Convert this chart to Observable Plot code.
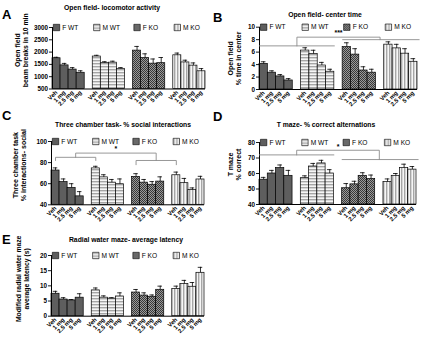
<!DOCTYPE html>
<html><head><meta charset="utf-8">
<script src="https://cdn.jsdelivr.net/npm/d3@7"></script>
<script src="https://cdn.jsdelivr.net/npm/@observablehq/plot@0.6"></script>
<style>
body{margin:0;background:#fff;}
#wrap{position:relative;width:424px;height:341px;overflow:hidden;font-family:"Liberation Sans",Arial,sans-serif;color:#000;}
.panel{position:absolute;}
.title{position:absolute;transform:translateX(-50%);white-space:nowrap;font-weight:bold;font-size:6.8px;}
.letter{position:absolute;font-weight:bold;font-size:13px;line-height:13px;}
</style></head><body>
<svg width="0" height="0" style="position:absolute">
<defs>
<pattern id="pfwt" patternUnits="userSpaceOnUse" width="4" height="4"><rect width="4" height="4" fill="#5e5e5e"/></pattern>
<pattern id="pmwt" patternUnits="userSpaceOnUse" width="4" height="3"><rect width="4" height="3" fill="#f6f6f6"/><rect width="4" height="1.4" fill="#a6a6a6"/></pattern>
<pattern id="pfko" patternUnits="userSpaceOnUse" width="2" height="2"><rect width="2" height="2" fill="#9a9a9a"/><rect width="1" height="1" fill="#383838"/><rect x="1" y="1" width="1" height="1" fill="#383838"/></pattern>
<pattern id="pmko" patternUnits="userSpaceOnUse" width="3" height="4"><rect width="3" height="4" fill="#f6f6f6"/><rect width="1.4" height="4" fill="#a6a6a6"/></pattern>
</defs></svg>
<div id="wrap"></div>
<script>
// ---- data ----
const groups = ["F WT", "M WT", "F KO", "M KO"];
const doses = ["Veh", "1 mg", "2.5 mg", "5 mg"];

const aTitle = "Open field- locomotor activity";
const aYLabel = ["Open field", "beam breaks in 10 min"];
const aTicks = [500, 1000, 1500, 2000, 2500, 3000];
const aMean = [1750, 1460, 1290, 1160, 1820, 1550, 1570, 1320, 2060, 1760, 1530, 1550, 1870, 1580, 1450, 1220];
const aErr  = [40, 80, 80, 80, 50, 60, 60, 50, 170, 170, 190, 230, 90, 90, 110, 110];

const bTitle = "Open field- center time";
const bYLabel = ["Open field", "% time in center"];
const bTicks = [0, 2, 4, 6, 8, 10];
const bMean = [4.1, 2.7, 2.1, 1.45, 6.25, 5.7, 3.85, 2.85, 6.8, 5.6, 3.05, 2.7, 7.2, 6.6, 5.75, 4.45];
const bErr  = [0.35, 0.3, 0.3, 0.3, 0.45, 0.6, 0.5, 0.4, 0.7, 0.95, 0.6, 0.55, 0.45, 0.65, 0.8, 0.5];
const bSig = {label: "***", wt: 7.0, top: 8.4, ko: 8.0};

const cTitle = "Three chamber task- % social interactions";
const cYLabel = ["Three chamber task", "% interactions- social"];
const cTicks = [40, 60, 80, 100];
const cMean = [72.5, 61.5, 56, 48, 74.5, 66, 61, 59.5, 66.5, 61, 59, 62, 68, 60.5, 54, 64];
const cErr  = [2.5, 3, 4, 4.5, 2, 2.5, 3, 5, 3, 3, 3, 4.5, 3, 4.5, 2, 3];
const cSig = {label: "*", wt: 85, wtEnd: 82, top: 89, ko: 82, koEnd: 78};

const dTitle = "T maze- % correct alternations";
const dYLabel = ["T maze", "% correct"];
const dTicks = [40, 50, 60, 70, 80];
const dMean = [56, 60, 63.5, 58.5, 57, 64.5, 66.5, 60, 50.5, 53, 58.5, 56.5, 54.5, 58.5, 63.5, 62.5];
const dErr  = [1.5, 2, 2, 3.5, 1.5, 2, 2, 2.5, 3, 2, 2, 2.5, 2, 1.5, 2.5, 2];
const dSig = {label: "*", wt: 72, top: 75, ko: 69};

const eTitle = "Radial water maze- average latency";
const eYLabel = ["Modified radial water maze", "average latency (s)"];
const eTicks = [0, 5, 10, 15, 20];
const eMean = [7.4, 5.5, 5.2, 6.1, 8.5, 6.1, 5.8, 6.5, 7.8, 6.8, 6.4, 8.7, 9.0, 10.6, 9.7, 14.3];
const eErr  = [0.8, 0.6, 0.3, 1.3, 0.8, 0.6, 0.3, 1.2, 1.0, 0.9, 0.6, 1.2, 0.9, 1.2, 1.4, 1.8];

// ---- drawing ----
const fills = ["url(#pfwt)", "url(#pmwt)", "url(#pfko)", "url(#pmko)"];
const FONT = '"Liberation Sans", Arial, sans-serif';
const wrap = document.getElementById("wrap");

function addDiv(cls, text, left, top) {
  const d = document.createElement("div");
  d.className = cls; d.textContent = text;
  d.style.left = left + "px"; d.style.top = top + "px";
  wrap.appendChild(d);
}

function sigMarks(sig, kind) {
  const segs = [];
  if (kind === "groups") {
    segs.push([[0, sig.wt], [9, sig.wt]]);
    segs.push([[10, sig.ko], [19.2, sig.ko]]);
    segs.push([[4.5, sig.wt], [4.5, sig.top], [14.5, sig.top], [14.5, sig.ko]]);
  } else {
    const l1 = 0.5, l2 = 5.5, r1 = 10.5, r2 = 15.5;
    const lm = (l1 + l2) / 2, rm = (r1 + r2) / 2;
    segs.push([[l1, sig.wtEnd], [l1, sig.wt], [l2, sig.wt], [l2, sig.wtEnd]]);
    segs.push([[r1, sig.koEnd], [r1, sig.ko], [r2, sig.ko], [r2, sig.koEnd]]);
    segs.push([[lm, sig.wt], [lm, sig.top], [rm, sig.top], [rm, sig.ko]]);
  }
  const pts = [];
  segs.forEach((s, k) => s.forEach(p => pts.push({k, x: p[0], y: p[1]})));
  const cx = kind === "groups" ? 9.5 : 8;
  return [
    Plot.line(pts, {x: "x", y: "y", z: "k", stroke: "#8c8c8c", strokeWidth: 0.9}),
    Plot.text([sig.label], {x: cx, y: sig.top, text: d => d, dy: -4, fontSize: 7, fontWeight: "bold"})
  ];
}

function panel(cfg) {
  const rows = cfg.mean.map((v, k) => ({g: Math.floor(k / 4), d: k % 4, slot: Math.floor(k / 4) * 5 + (k % 4), v, e: cfg.err[k]}));
  const y0 = cfg.ticks[0], y1 = cfg.ticks[cfg.ticks.length - 1];
  const marks = [];
  marks.push(Plot.axisY({ticks: cfg.ticks, tickFormat: d => String(d), tickSize: 3, tickPadding: 1.5, fontSize: 6.3, fontWeight: "bold", label: null, strokeWidth: 0.9}));
  marks.push(Plot.axisX({ticks: rows.map(r => r.slot + 0.5), tickFormat: t => doses[Math.round(t - 0.5) % 5], tickRotate: -45, tickSize: 0, tickPadding: 2.5, fontSize: 6, fontWeight: "bold", label: null}));
  groups.forEach((name, g) => {
    marks.push(Plot.rectY(rows.filter(r => r.g === g), {x1: "slot", x2: r => r.slot + 1, y1: y0, y2: "v", fill: fills[g], stroke: "black", strokeWidth: 0.7}));
  });
  marks.push(Plot.ruleX(rows, {x: r => r.slot + 0.5, y1: "v", y2: r => r.v + r.e, stroke: "black", strokeWidth: 0.8}));
  marks.push(Plot.ruleY(rows, {y: r => r.v + r.e, x1: r => r.slot + 0.22, x2: r => r.slot + 0.78, stroke: "black", strokeWidth: 0.8}));
  marks.push(Plot.ruleX([0], {stroke: "black", strokeWidth: 1}));
  marks.push(Plot.ruleY([y0], {stroke: "black", strokeWidth: 1}));
  groups.forEach((name, g) => {
    marks.push(Plot.dot([name], {x: g * 5 + 0.5, y: y1, symbol: "square", r: 3.6, fill: fills[g], stroke: "black", strokeWidth: 0.6}));
  });
  marks.push(Plot.text(groups, {x: (d, i) => i * 5 + 1.2, y: y1, text: d => d, textAnchor: "start", fontSize: 6.6}));
  if (cfg.sig) marks.push(...sigMarks(cfg.sig, cfg.sigKind));
  cfg.ylabel.forEach((line, k) => {
    marks.push(Plot.text([line], {frameAnchor: "left", textAnchor: "middle", rotate: -90, dx: cfg.ylx + (k - 0.5) * 8, dy: cfg.yly, text: d => d, fontSize: cfg.yfs || 7, fontWeight: "bold"}));
  });
  const svg = Plot.plot({
    width: cfg.w, height: cfg.h,
    marginTop: cfg.m[0], marginRight: cfg.m[1], marginBottom: cfg.m[2], marginLeft: cfg.m[3],
    x: {type: "linear", domain: [0, 19]},
    y: {domain: [y0, y1]},
    style: {fontFamily: FONT, background: "transparent", overflow: "visible", color: "black"},
    marks
  });
  svg.classList.add("panel");
  svg.style.left = cfg.left + "px"; svg.style.top = cfg.top + "px";
  wrap.appendChild(svg);
  addDiv("title", cfg.title, cfg.tx, cfg.ty);
  addDiv("letter", cfg.letter, cfg.lx, cfg.ly);
}

panel({letter: "A", lx: 2, ly: 8, title: aTitle, tx: 112, ty: 4, ylabel: aYLabel, ylx: -31, yly: -8, yfs: 6.9,
  ticks: aTicks, mean: aMean, err: aErr, left: 0, top: 0, w: 212, h: 112, m: [27, 7, 23.5, 52]});
panel({letter: "B", lx: 213, ly: 11, title: bTitle, tx: 325, ty: 11, ylabel: bYLabel, ylx: -25, yly: 0,
  ticks: bTicks, mean: bMean, err: bErr, sig: bSig, sigKind: "groups", left: 212, top: 0, w: 212, h: 112, m: [26.7, 7, 23, 47]});
panel({letter: "C", lx: 2, ly: 109, title: cTitle, tx: 123, ty: 121, ylabel: cYLabel, ylx: -32, yly: -8,
  ticks: cTicks, mean: cMean, err: cErr, sig: cSig, sigKind: "veh", left: 0, top: 112, w: 212, h: 114, m: [29, 8, 21.7, 51]});
panel({letter: "D", lx: 213, ly: 110, title: dTitle, tx: 326, ty: 121, ylabel: dYLabel, ylx: -25, yly: -9,
  ticks: dTicks, mean: dMean, err: dErr, sig: dSig, sigKind: "groups", left: 212, top: 112, w: 212, h: 114, m: [30, 8, 22, 47]});
panel({letter: "E", lx: 2, ly: 233, title: eTitle, tx: 126, ty: 236, ylabel: eYLabel, ylx: -29, yly: -7, yfs: 6.8,
  ticks: eTicks, mean: eMean, err: eErr, left: 0, top: 226, w: 212, h: 115, m: [29, 8, 25.3, 51]});
</script>
</body></html>
